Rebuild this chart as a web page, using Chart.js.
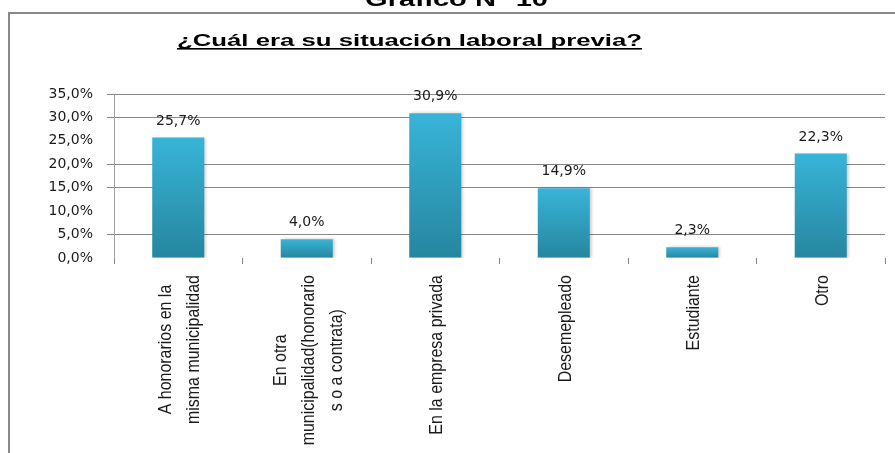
<!DOCTYPE html>
<html>
<head>
<meta charset="utf-8">
<title>¿Cuál era su situación laboral previa?</title>
<script src="https://cdn.jsdelivr.net/npm/chart.js@4"></script>
<style>
    body { margin: 0; background: #ffffff; }
    canvas { display: block; }
</style>
</head>
<body>
<canvas id="myChart" width="895" height="453"></canvas>
<script>
const pageTitle = 'Gráfico N° 10';
const chartTitle = '¿Cuál era su situación laboral previa?';

const categories = [
    ['A honorarios en la', 'misma municipalidad'],
    ['En otra', 'municipalidad(honorario', 's o a contrata)'],
    'En la empresa privada',
    'Desemepleado',
    'Estudiante',
    'Otro',
];
const percentages = [25.7, 4.0, 30.9, 14.9, 2.3, 22.3];
const yTicks = [0, 5, 10, 15, 20, 25, 30, 35];
const hiddenGridValues = [0, 10, 25];

const formatPercent = (value) => value.toFixed(1).replace('.', ',') + '%';

// Gradient for each bar: light cyan on top, darker teal at the base.
function barGradient(context) {
    const chart = context.chart;
    const yScale = chart.scales.y;
    if (!chart.chartArea || !yScale) {
        return '#31a4c6';
    }
    const top = yScale.getPixelForValue(context.raw);
    const bottom = yScale.getPixelForValue(0);
    const gradient = chart.ctx.createLinearGradient(0, top, 0, bottom);
    gradient.addColorStop(0, '#38b4d8');
    gradient.addColorStop(1, '#26869f');
    return gradient;
}

// Frame, headings, category labels and value labels are drawn by hand.
const decorations = {
    id: 'decorations',
    beforeDatasetsDraw(chart) {
        const ctx = chart.ctx;
        ctx.save();
        ctx.shadowColor = 'rgba(0, 0, 0, 0.22)';
        ctx.shadowOffsetX = 2;
        ctx.shadowBlur = 3;
    },
    afterDatasetsDraw(chart) {
        const ctx = chart.ctx;
        ctx.restore();

        ctx.save();
        ctx.font = '14px "DejaVu Sans", Verdana, sans-serif';
        ctx.fillStyle = '#1a1a1a';
        ctx.textAlign = 'center';
        ctx.textBaseline = 'alphabetic';
        chart.getDatasetMeta(0).data.forEach((bar, index) => {
            ctx.fillText(formatPercent(percentages[index]), bar.x, bar.y - 13);
        });
        ctx.restore();
    },
    afterDraw(chart) {
        const ctx = chart.ctx;
        ctx.save();

        // Outer frame (left and top edges only are visible).
        ctx.strokeStyle = '#888888';
        ctx.lineWidth = 2;
        ctx.beginPath();
        ctx.moveTo(9, chart.height);
        ctx.lineTo(9, 13);
        ctx.lineTo(chart.width, 13);
        ctx.stroke();

        const drawStretched = (text, font, left, baseline, targetWidth) => {
            ctx.font = font;
            const scaleX = targetWidth / ctx.measureText(text).width;
            ctx.save();
            ctx.translate(left, baseline);
            ctx.scale(scaleX, 1);
            ctx.fillText(text, 0, 0);
            ctx.restore();
        };

        ctx.fillStyle = '#000000';
        ctx.textAlign = 'left';
        ctx.textBaseline = 'alphabetic';
        drawStretched(pageTitle, 'bold 20px "Liberation Sans", Arial, sans-serif', 365, 6, 183);
        drawStretched(chartTitle, 'bold 17px "Liberation Sans", Arial, sans-serif', 177, 46, 465);

        // Underline of the chart title.
        ctx.fillRect(177, 48, 465, 1.6);

        // Category labels: rotated, condensed, lines centred on each other.
        const xScale = chart.scales.x;
        const condense = 0.84;
        const lineGap = 28;
        ctx.font = '19px "Liberation Sans", Arial, sans-serif';
        ctx.fillStyle = '#1a1a1a';
        ctx.textAlign = 'center';
        ctx.textBaseline = 'middle';
        categories.forEach((label, index) => {
            const lines = Array.isArray(label) ? label : [label];
            const longest = Math.max(...lines.map(line => ctx.measureText(line).width)) * condense;
            ctx.save();
            ctx.translate(xScale.getPixelForValue(index) + 2, chart.chartArea.bottom + 17);
            ctx.rotate(-Math.PI / 2);
            ctx.scale(condense, 1);
            lines.forEach((line, i) => {
                const offset = (i - (lines.length - 1) / 2) * lineGap;
                ctx.fillText(line, -longest / 2 / condense, offset);
            });
            ctx.restore();
        });
        ctx.restore();
    }
};

const ctx = document.getElementById('myChart').getContext('2d');
const chart = new Chart(ctx, {
    type: 'bar',
    data: {
        labels: categories,
        datasets: [{
            label: chartTitle,
            data: percentages,
            backgroundColor: barGradient,
            borderWidth: 0,
            categoryPercentage: 1.0,
            barPercentage: 0.405,
        }]
    },
    options: {
        responsive: false,
        animation: false,
        devicePixelRatio: 1,
        layout: {
            padding: { top: 94, right: 10, bottom: 0, left: 0 }
        },
        plugins: {
            legend: { display: false },
            title: { display: false },
            tooltip: { enabled: false },
        },
        scales: {
            x: {
                grid: {
                    drawOnChartArea: false,
                    tickLength: 6,
                    color: '#868686',
                },
                border: { display: false },
                ticks: { display: false },
                afterFit(axis) {
                    axis.height = 195;
                },
            },
            y: {
                min: 0,
                max: 35,
                afterBuildTicks(axis) {
                    axis.ticks = yTicks.map(value => ({ value }));
                },
                grid: {
                    tickLength: 7,
                    color: (c) => (c.tick && hiddenGridValues.includes(c.tick.value)) ? 'rgba(0,0,0,0)' : '#868686',
                },
                border: { display: true, color: '#a0a0a0', width: 1 },
                ticks: {
                    padding: 14,
                    color: '#1a1a1a',
                    font: { family: '"DejaVu Sans", Verdana, sans-serif', size: 14 },
                    callback: (value) => formatPercent(value),
                },
                afterFit(axis) {
                    axis.width = 114;
                },
            }
        }
    },
    plugins: [decorations]
});
</script>
</body>
</html>
